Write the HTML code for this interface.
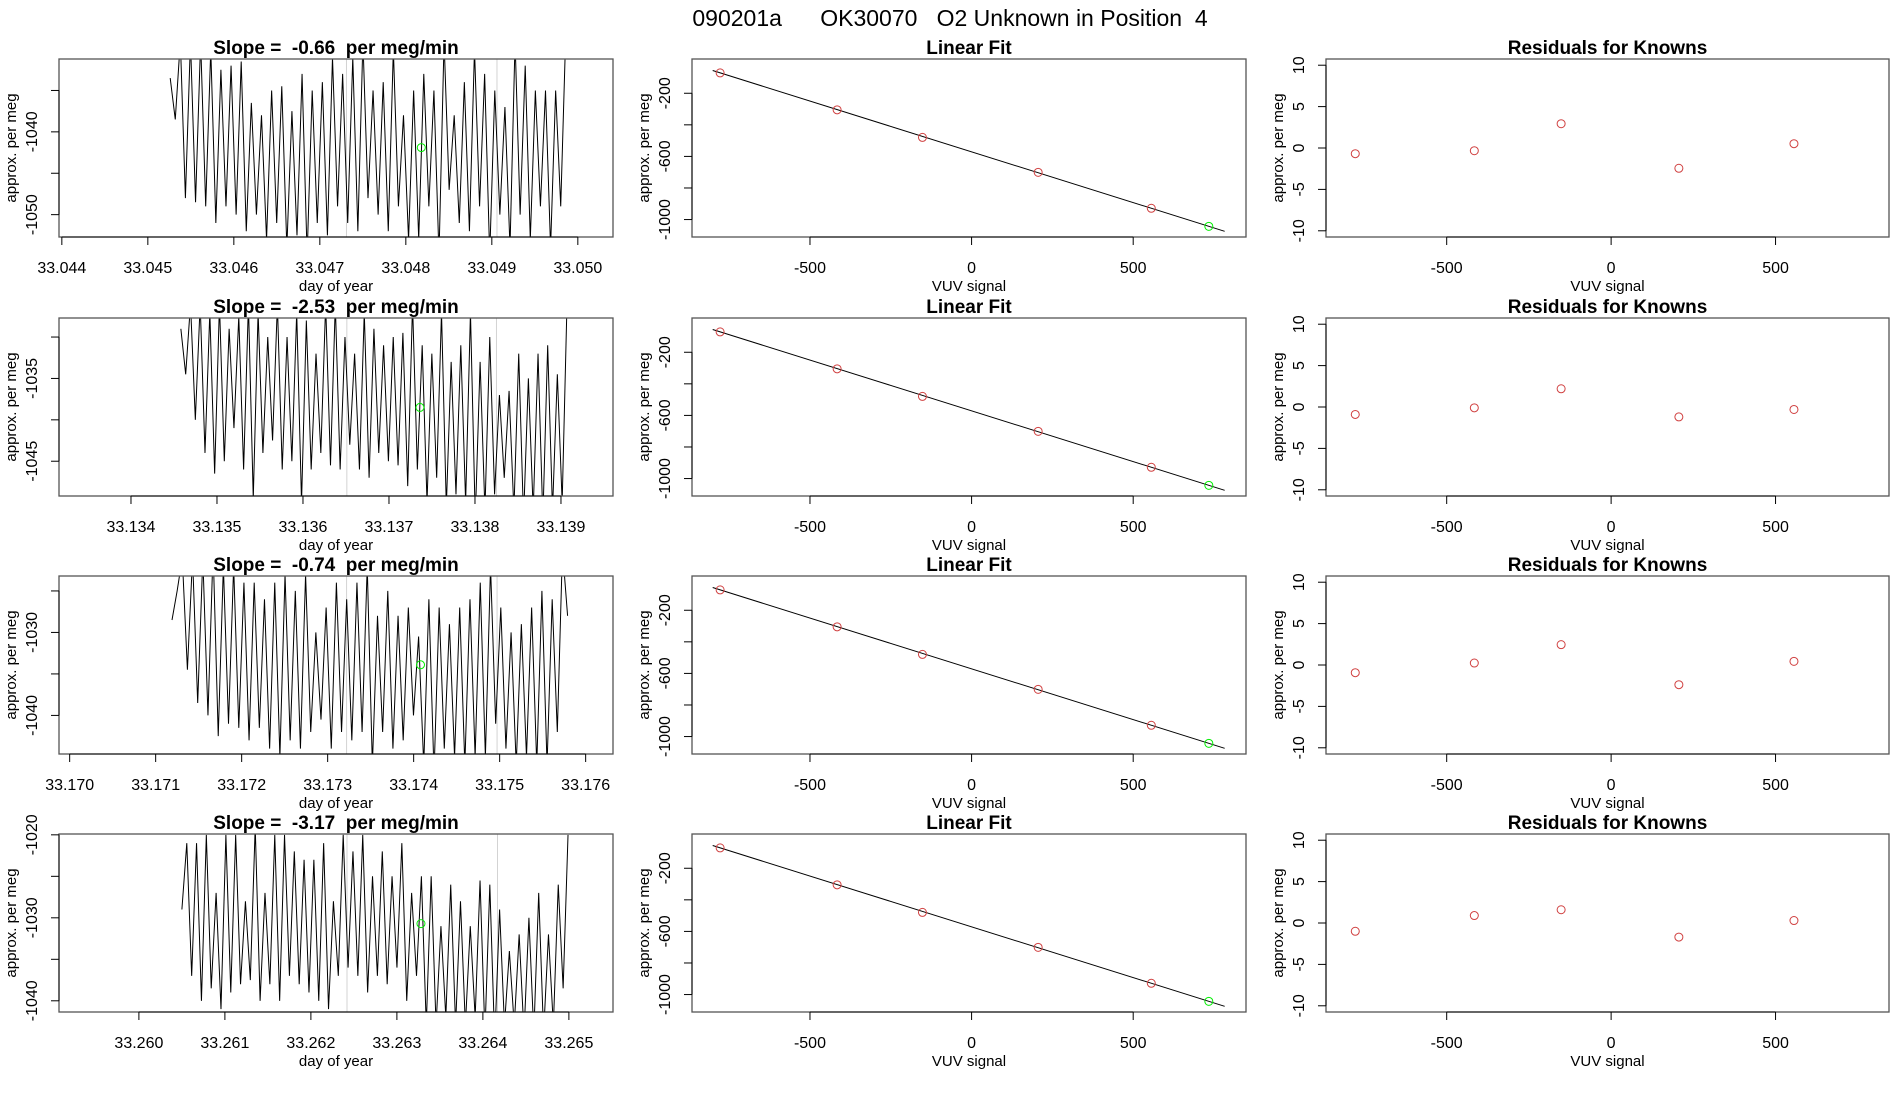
<!DOCTYPE html>
<html><head><meta charset="utf-8"><style>
html,body{margin:0;padding:0;background:#fff;}
svg{display:block;font-family:"Liberation Sans",Arial,sans-serif;}
text{white-space:pre;}
</style></head><body>
<svg id="chart" width="1900" height="1100" viewBox="0 0 1900 1100" xmlns="http://www.w3.org/2000/svg">
<rect width="1900" height="1100" fill="#fff"/>
<text x="950" y="26" text-anchor="middle" font-size="23" fill="#000" xml:space="preserve">090201a      OK30070   O2 Unknown in Position  4</text>
</svg>
<script>
// ---- data ----
const slopeLabels = ["-0.66","-2.53","-0.74","-3.17"];
const timeTicks1 = [33.044,33.045,33.046,33.047,33.048,33.049,33.050];
const timeTicks2 = [33.134,33.135,33.136,33.137,33.138,33.139];
const timeTicks3 = [33.170,33.171,33.172,33.173,33.174,33.175,33.176];
const timeTicks4 = [33.260,33.261,33.262,33.263,33.264,33.265];
const timeTickLabels1 = ["33.044","33.045","33.046","33.047","33.048","33.049","33.050"];
const timeTickLabels2 = ["33.134","33.135","33.136","33.137","33.138","33.139"];
const timeTickLabels3 = ["33.170","33.171","33.172","33.173","33.174","33.175","33.176"];
const timeTickLabels4 = ["33.260","33.261","33.262","33.263","33.264","33.265"];
const timeDomains = [[33.043967,33.050409],[33.133163,33.139605],[33.169876,33.176318],[33.259071,33.265513]];
const valueDomains = [[-1052.7,-1031.2],[-1049.2,-1027.7],[-1044.65,-1023.2],[-1041.35,-1019.9]];
const valueTicks1 = [-1035,-1040,-1045,-1050];
const valueTicks2 = [-1030,-1035,-1040,-1045];
const valueTicks3 = [-1025,-1030,-1035,-1040];
const valueTicks4 = [-1020,-1025,-1030,-1035,-1040];
const valueTickLabels1 = ["","-1040","","-1050"];
const valueTickLabels2 = ["","-1035","","-1045"];
const valueTickLabels3 = ["","-1030","","-1040"];
const valueTickLabels4 = ["-1020","","-1030","","-1040"];
const seriesStart = [33.04526,33.13458,33.17119,33.26050];
const seriesEnd = [33.04986,33.13907,33.17579,33.26499];
const series1 = [-1033.5,-1038.5,-1029,-1048,-1029,-1048.5,-1029,-1049,-1030,-1051,-1032.5,-1049,-1032,-1050,-1031.5,-1052,-1036.5,-1050,-1038,-1053,-1035,-1051,-1034.5,-1054,-1037.5,-1052.5,-1033,-1055,-1035,-1051,-1034,-1052.5,-1031,-1049,-1033,-1051,-1031,-1052,-1029,-1048,-1035,-1050,-1034,-1052,-1030,-1049,-1038,-1053,-1035,-1053,-1033,-1049,-1035,-1055,-1029,-1047,-1038,-1051,-1034,-1052,-1030,-1049,-1033,-1055,-1035,-1050,-1037,-1054,-1029,-1050,-1032,-1053,-1035,-1049,-1035,-1054,-1035,-1049,-1028];
const series2 = [-1029,-1034.5,-1026,-1040,-1026,-1044,-1027,-1046.5,-1026,-1045,-1029,-1041,-1027.5,-1046,-1026,-1049.5,-1027,-1044,-1030,-1042.5,-1026,-1046,-1030,-1045,-1027,-1050,-1028,-1046,-1032,-1044,-1026,-1045.5,-1026,-1046,-1030,-1043,-1032,-1046,-1027,-1047,-1029,-1044,-1031,-1045,-1030,-1045.5,-1029.5,-1048,-1026,-1046,-1031,-1050,-1032,-1047,-1027,-1050.5,-1033,-1049,-1031,-1050,-1027,-1052,-1033,-1051,-1030,-1049,-1037,-1047,-1036.5,-1051,-1032,-1052,-1035,-1051,-1032,-1052,-1031,-1051,-1034.5,-1050,-1026];
const series3 = [-1028.5,-1025,-1021,-1034.5,-1021,-1038.5,-1021,-1040,-1020,-1042.5,-1022,-1041,-1022,-1041.5,-1024,-1043,-1024,-1041.5,-1026,-1044,-1024,-1045,-1023,-1043,-1025,-1044,-1023,-1042,-1030,-1040.5,-1027,-1044,-1024,-1042,-1026,-1043,-1024,-1042,-1022,-1046,-1028,-1042,-1025,-1044,-1028,-1043,-1027,-1040,-1030.5,-1046,-1026,-1047,-1027,-1044,-1029,-1045,-1027,-1046,-1026,-1045,-1024,-1045,-1022,-1041,-1027,-1044,-1030,-1046,-1029,-1045,-1027,-1046,-1025,-1046,-1026,-1042,-1020,-1028];
const series4 = [-1029,-1021,-1037,-1021,-1040,-1020,-1038.5,-1027,-1041,-1020,-1039,-1020,-1038,-1028,-1037.5,-1019,-1040,-1027,-1038,-1020,-1040,-1020,-1037,-1022,-1038,-1023,-1039,-1023,-1040,-1021,-1041,-1028,-1037,-1020,-1036,-1022,-1037,-1020,-1039,-1025,-1037,-1022,-1038,-1025,-1036,-1021,-1040,-1027,-1037,-1025,-1043,-1025,-1043,-1031,-1042,-1026,-1043,-1028,-1043,-1031,-1042,-1025.5,-1044,-1026,-1045,-1029,-1043,-1034,-1043,-1032,-1044,-1030,-1044,-1027,-1044,-1032,-1043,-1026,-1038.5,-1020];
const grayLineTimes = [[33.04731,33.04906],[33.13651,33.13825],[33.17322,33.17497],[33.26242,33.26417]];
const unknownTime = [33.04818,33.13736,33.17408,33.26328];
const unknownValue = [-1041.9,-1038.5,-1033.9,-1030.7];
const knownSignal = [-778,-416,-152,206,556];
const knownPerMeg = [-71,-305,-479.5,-701,-928.6];
const unknownSignal = [734,734,734,734];
const unknownPerMeg = [-1043,-1043,-1043,-1043];
const fitSlope = -0.643;
const fitIntercept = -571;
const fitRange = [-801,783];
const fitTicksX = [-500,0,500];
const fitTicksY = [-200,-400,-600,-800,-1000];
const fitTickLabelsY = ["-200","","-600","","-1000"];
const residuals1 = [-0.69,-0.33,2.93,-2.45,0.52];
const residuals2 = [-0.9,-0.1,2.2,-1.2,-0.3];
const residuals3 = [-0.93,0.24,2.46,-2.38,0.44];
const residuals4 = [-1.0,0.9,1.6,-1.7,0.3];
const residTicksY = [10,5,0,-5,-10];
const residTickLabelsY = ["10","5","0","-5","-10"];

// ---- layout ----
const NS = "http://www.w3.org/2000/svg";
const svg = document.getElementById('chart');
const rowTops = [59,318,576,834];
const BOXH = 178;
const panels = [{l:59,r:613},{l:692,r:1246},{l:1326,r:1889}];
function mk(tag, attrs, parent){
  const e = document.createElementNS(NS, tag);
  for (const k in attrs) e.setAttribute(k, attrs[k]);
  (parent||svg).appendChild(e);
  return e;
}
function txt(parent, x, y, s, size, opts){
  const t = mk('text', Object.assign({x:x, y:y, 'font-size':size, 'text-anchor':'middle', fill:'#000'}, opts||{}), parent);
  t.textContent = s;
  return t;
}
function scale(d0,d1,r0,r1){ return v => r0 + (v-d0)/(d1-d0)*(r1-r0); }

const tt = [timeTicks1,timeTicks2,timeTicks3,timeTicks4];
const ttl = [timeTickLabels1,timeTickLabels2,timeTickLabels3,timeTickLabels4];
const vt = [valueTicks1,valueTicks2,valueTicks3,valueTicks4];
const vtl = [valueTickLabels1,valueTickLabels2,valueTickLabels3,valueTickLabels4];
const ser = [series1,series2,series3,series4];
const res = [residuals1,residuals2,residuals3,residuals4];

function frame(g, p, top, title, xt, xtl, xs, yt, ytl, ys, xlab){
  const bot = top + BOXH;
  const t = txt(g, (p.l+p.r)/2, top-5, title, 19, {'font-weight':'bold'});
  
  
  const box = mk('rect', {x:p.l, y:top, width:p.r-p.l, height:BOXH, fill:'none', stroke:'#555', 'stroke-width':1.3}, g);
  
  
  const xa = mk('g', {}, g);
  
  
  mk('line',{x1:xs(xt[0]),x2:xs(xt[xt.length-1]),y1:bot,y2:bot,stroke:'#000','stroke-width':1},xa);
  xt.forEach((v,i)=>{
    const x = xs(v);
    mk('line',{x1:x,x2:x,y1:bot,y2:bot+8,stroke:'#000','stroke-width':1},xa);
    const l = txt(xa, x, bot+36, xtl[i], 16);
    
    
  });
  const xl = txt(g, (p.l+p.r)/2, bot+54, xlab, 15);
  
  
  const ya = mk('g', {}, g);
  
  
  mk('line',{x1:p.l,x2:p.l,y1:ys(yt[0]),y2:ys(yt[yt.length-1]),stroke:'#000','stroke-width':1},ya);
  yt.forEach((v,i)=>{
    const y = ys(v);
    mk('line',{x1:p.l-8,x2:p.l,y1:y,y2:y,stroke:'#000','stroke-width':1},ya);
    if (ytl[i]) {
      const l = txt(ya, 0, 0, ytl[i], 16, {transform:`translate(${p.l-22},${y}) rotate(-90)`});
      
      
    }
  });
  const yl = txt(g, 0, 0, 'approx. per meg', 15, {transform:`translate(${p.l-43},${top+BOXH/2}) rotate(-90)`});
  
  
}

for (let r=0; r<4; r++){
  const top = rowTops[r], bot = top+BOXH;
  const p = panels[0];
  const g = mk('g',{});
  
  
  const xs = scale(timeDomains[r][0], timeDomains[r][1], p.l, p.r);
  const ys = scale(valueDomains[r][0], valueDomains[r][1], bot, top);
  const cp = mk('clipPath',{id:'clip'+r},g);
  mk('rect',{x:p.l,y:top,width:p.r-p.l,height:BOXH},cp);
  grayLineTimes[r].forEach(tv=>{
    const gl = mk('line',{x1:xs(tv),x2:xs(tv),y1:top,y2:bot,stroke:'#d3d3d3','stroke-width':1},g);
    
    
  });
  const s = ser[r];
  const dt = (seriesEnd[r]-seriesStart[r])/(s.length-1);
  const pts = s.map((v,i)=>xs(seriesStart[r]+i*dt).toFixed(2)+','+ys(v).toFixed(2)).join(' ');
  const pl = mk('polyline',{points:pts,fill:'none',stroke:'#000','stroke-width':1,'clip-path':'url(#clip'+r+')'},g);
  
  
  const gp = mk('circle',{cx:xs(unknownTime[r]),cy:ys(unknownValue[r]),r:4,fill:'none',stroke:'#00ee00','stroke-width':1},g);
  
  
  frame(g, p, top, 'Slope =  '+slopeLabels[r]+'  per meg/min', tt[r], ttl[r], xs, vt[r], vtl[r], ys, 'day of year');

  const p2 = panels[1];
  const g2 = mk('g',{});
  
  
  const xs2 = scale(-865, 849, p2.l, p2.r);
  const ys2 = scale(-1110.5, 17, bot, top);
  const fl = mk('line',{x1:xs2(fitRange[0]),y1:ys2(fitIntercept+fitSlope*fitRange[0]),x2:xs2(fitRange[1]),y2:ys2(fitIntercept+fitSlope*fitRange[1]),stroke:'#000','stroke-width':1},g2);
  
  
  knownSignal.forEach((v,i)=>{
    const c = mk('circle',{cx:xs2(v),cy:ys2(knownPerMeg[i]),r:4,fill:'none',stroke:'#d04040','stroke-width':1},g2);
    
    
  });
  const uc = mk('circle',{cx:xs2(unknownSignal[r]),cy:ys2(unknownPerMeg[r]),r:4,fill:'none',stroke:'#00ee00','stroke-width':1},g2);
  
  
  frame(g2, p2, top, 'Linear Fit', fitTicksX, fitTicksX.map(String), xs2, fitTicksY, fitTickLabelsY, ys2, 'VUV signal');

  const p3 = panels[2];
  const g3 = mk('g',{});
  
  
  const xs3 = scale(-867, 845, p3.l, p3.r);
  const ys3 = scale(-10.75, 10.75, bot, top);
  knownSignal.forEach((v,i)=>{
    const c = mk('circle',{cx:xs3(v),cy:ys3(res[r][i]),r:4,fill:'none',stroke:'#d04040','stroke-width':1},g3);
    
    
  });
  frame(g3, p3, top, 'Residuals for Knowns', fitTicksX, fitTicksX.map(String), xs3, residTicksY, residTickLabelsY, ys3, 'VUV signal');
}
</script>
</body></html>
